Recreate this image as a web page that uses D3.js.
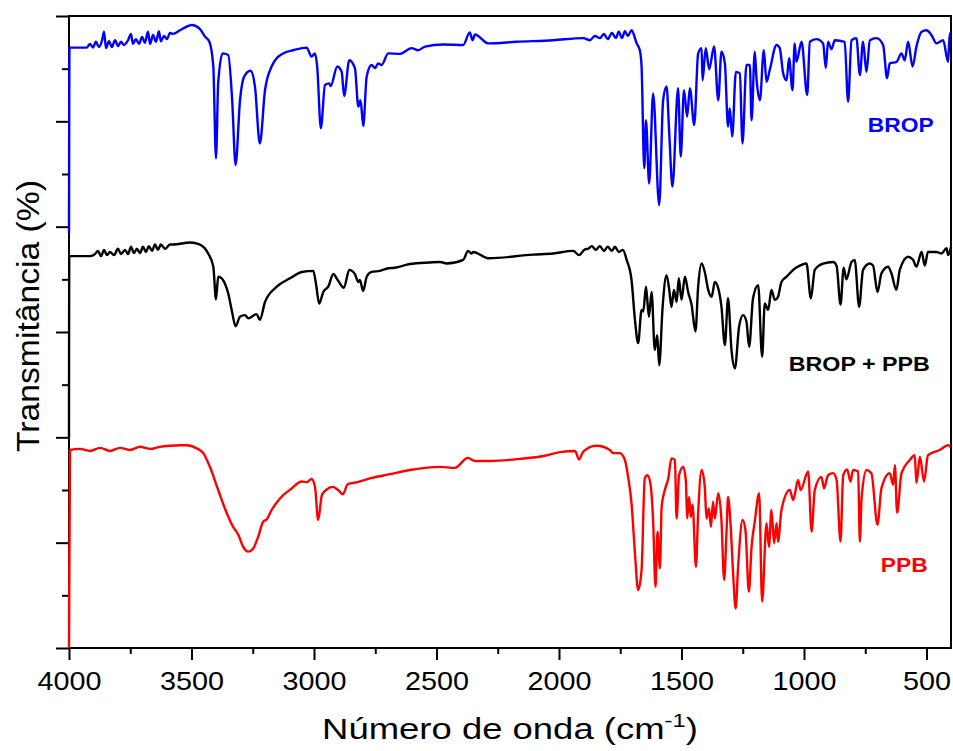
<!DOCTYPE html>
<html>
<head>
<meta charset="utf-8">
<script src="https://cdn.jsdelivr.net/npm/d3@7"></script>
<style>
  body { margin: 0; background: #fff; }
  svg { display: block; }
  text { font-family: "Liberation Sans", Arial, sans-serif; }
</style>
</head>
<body>
<div id="chart"></div>
<script>
// wavenumber (cm-1), transmittance (offset, arbitrary units)
const brop = [
  [4000,7.88],[3998,11.40],[3928,11.40],[3914,11.47],[3902,11.40],[3890,11.51],[3878,11.41],[3865,11.54],[3857,11.70],
  [3849,11.39],[3837,11.52],[3825,11.41],[3812,11.54],[3800,11.43],[3788,11.51],[3776,11.45],[3759,11.54],[3747,11.66],
  [3739,11.47],[3727,11.56],[3714,11.47],[3702,11.60],[3690,11.49],[3678,11.70],[3669,11.47],[3657,11.64],[3645,11.51],
  [3633,11.71],[3625,11.52],[3612,11.62],[3600,11.56],[3588,11.68],[3576,11.66],[3547,11.73],[3523,11.79],[3499,11.83],
  [3465,11.75],[3445,11.61],[3427,11.51],[3411,11.04],[3400,9.30],[3391,10.73],[3373,11.29],[3350,11.26],[3334,10.40],
  [3320,9.17],[3302,10.40],[3285,10.85],[3259,10.96],[3241,10.66],[3221,9.58],[3200,10.59],[3173,11.04],[3126,11.29],
  [3085,11.35],[3030,11.40],[3010,11.23],[2996,11.29],[2987,11.04],[2972,9.87],[2955,10.69],[2938,10.72],[2932,10.67],
  [2905,11.04],[2887,10.94],[2877,10.48],[2856,11.16],[2833,11.01],[2819,10.28],[2810,10.40],[2799,9.91],[2785,10.85],
  [2765,11.07],[2751,11.01],[2738,11.10],[2724,11.07],[2697,11.29],[2649,11.28],[2602,11.39],[2575,11.35],[2547,11.42],
  [2473,11.46],[2391,11.45],[2364,11.69],[2353,11.54],[2343,11.65],[2289,11.48],[2173,11.51],[2024,11.54],[1901,11.58],
  [1874,11.54],[1854,11.62],[1833,11.58],[1817,11.66],[1801,11.56],[1784,11.68],[1768,11.58],[1756,11.70],[1743,11.58],
  [1731,11.71],[1719,11.62],[1704,11.73],[1683,11.48],[1670,11.35],[1663,11.04],[1652,9.11],[1645,10.02],[1632,8.82],
  [1616,10.53],[1591,8.41],[1575,10.40],[1561,10.66],[1550,9.77],[1537,8.76],[1514,10.63],[1503,9.33],[1490,10.59],
  [1477,10.09],[1466,10.63],[1448,9.93],[1432,11.29],[1418,11.39],[1414,10.78],[1401,11.39],[1387,10.99],[1367,11.42],
  [1350,10.40],[1337,11.32],[1323,11.10],[1310,9.90],[1303,10.25],[1293,9.71],[1278,10.94],[1262,10.91],[1251,9.58],
  [1235,11.07],[1221,11.07],[1214,10.02],[1201,11.32],[1194,10.82],[1180,10.40],[1164,11.35],[1153,10.75],[1140,10.97],
  [1112,11.45],[1099,11.39],[1085,10.91],[1071,10.78],[1061,11.20],[1047,10.59],[1038,11.48],[1031,11.13],[1010,11.51],
  [987,10.50],[976,11.51],[949,11.56],[922,11.48],[911,11.01],[902,11.51],[888,11.37],[874,11.54],[834,11.51],
  [820,10.37],[806,11.54],[786,11.58],[772,10.88],[759,11.51],[745,10.94],[731,11.54],[704,11.58],[677,11.45],
  [661,10.82],[650,11.10],[622,11.13],[602,11.29],[589,11.16],[575,11.51],[557,11.04],[541,11.42],[520,11.70],
  [500,11.73],[480,11.64],[459,11.48],[432,11.54],[412,11.13],[405,11.67],[401,11.60]
];

const bropPpb = [
  [4000,4.00],[3999,7.44],[3914,7.44],[3894,7.48],[3882,7.54],[3869,7.44],[3857,7.56],[3845,7.46],[3833,7.52],
  [3816,7.46],[3800,7.58],[3788,7.48],[3771,7.56],[3759,7.48],[3747,7.62],[3735,7.50],[3723,7.58],[3710,7.50],
  [3698,7.62],[3686,7.52],[3674,7.63],[3661,7.54],[3649,7.66],[3637,7.56],[3625,7.66],[3608,7.58],[3588,7.66],
  [3574,7.66],[3506,7.70],[3465,7.66],[3432,7.49],[3411,7.24],[3400,6.62],[3391,7.05],[3377,7.02],[3350,6.73],
  [3336,6.42],[3320,6.11],[3302,6.29],[3282,6.32],[3268,6.26],[3234,6.34],[3221,6.23],[3200,6.57],[3152,6.86],
  [3098,7.02],[3050,7.14],[3003,7.16],[2992,6.92],[2979,6.54],[2962,6.76],[2942,6.86],[2921,7.10],[2905,7.00],
  [2894,6.92],[2878,6.84],[2856,7.18],[2833,7.10],[2819,6.95],[2813,6.99],[2799,6.78],[2785,7.05],[2765,7.14],
  [2731,7.16],[2697,7.21],[2670,7.22],[2609,7.29],[2527,7.32],[2486,7.33],[2459,7.30],[2391,7.37],[2371,7.54],
  [2357,7.49],[2350,7.52],[2289,7.40],[2105,7.47],[2024,7.49],[1942,7.54],[1918,7.46],[1894,7.57],[1882,7.58],
  [1866,7.63],[1850,7.56],[1833,7.63],[1817,7.54],[1801,7.62],[1784,7.54],[1772,7.62],[1756,7.52],[1739,7.56],
  [1724,7.37],[1704,6.99],[1690,6.23],[1677,5.79],[1663,6.42],[1656,6.39],[1645,6.86],[1633,6.29],[1622,6.76],
  [1609,5.66],[1599,5.94],[1591,5.37],[1577,6.48],[1561,7.08],[1550,6.80],[1541,6.48],[1531,6.80],[1520,6.57],
  [1511,7.02],[1500,6.61],[1486,7.05],[1473,6.76],[1459,6.52],[1443,6.01],[1432,6.86],[1418,7.30],[1405,7.14],
  [1391,6.80],[1377,6.67],[1364,6.95],[1350,6.83],[1337,6.48],[1323,5.75],[1310,6.64],[1296,5.66],[1282,5.31],
  [1265,6.10],[1249,6.32],[1235,6.20],[1224,5.72],[1208,6.64],[1187,6.89],[1171,5.53],[1160,6.54],[1146,6.42],
  [1133,6.80],[1119,6.61],[1106,6.67],[1092,6.95],[1071,7.05],[1044,7.18],[1017,7.26],[990,7.30],[972,6.64],
  [956,7.18],[922,7.30],[881,7.33],[867,7.26],[851,6.52],[838,7.22],[827,7.00],[806,7.33],[793,7.37],
  [775,6.48],[759,7.18],[731,7.30],[718,7.26],[700,6.76],[684,7.11],[657,7.24],[643,7.11],[623,6.80],
  [609,7.18],[575,7.43],[555,7.37],[541,7.24],[520,7.52],[507,7.26],[494,7.52],[459,7.52],[439,7.49],
  [418,7.59],[412,7.46],[400,7.62]
];

const ppb = [
  [4000,0],[3996,3.76],[3955,3.78],[3914,3.74],[3873,3.80],[3833,3.74],[3792,3.80],[3751,3.76],[3710,3.82],
  [3669,3.78],[3629,3.82],[3588,3.84],[3547,3.85],[3520,3.85],[3479,3.79],[3452,3.70],[3425,3.44],[3391,3.00],
  [3356,2.56],[3330,2.30],[3309,2.15],[3289,1.92],[3268,1.83],[3248,1.89],[3228,2.11],[3207,2.40],[3193,2.44],
  [3173,2.62],[3139,2.84],[3091,3.03],[3050,3.16],[3030,3.15],[3010,3.21],[2996,3.06],[2983,2.43],[2968,2.90],
  [2951,3.00],[2923,3.06],[2902,3.00],[2882,2.92],[2862,3.11],[2821,3.15],[2764,3.23],[2690,3.30],[2609,3.38],
  [2547,3.42],[2486,3.44],[2425,3.42],[2372,3.61],[2343,3.55],[2282,3.55],[2160,3.59],[2058,3.65],[1996,3.72],
  [1935,3.74],[1918,3.58],[1901,3.73],[1847,3.84],[1792,3.76],[1779,3.70],[1752,3.70],[1731,3.57],[1718,3.25],
  [1704,2.75],[1690,1.80],[1677,1.10],[1663,1.48],[1650,3.22],[1639,3.28],[1626,3.09],[1616,2.43],[1606,1.16],
  [1598,2.21],[1588,1.51],[1581,2.68],[1568,3.00],[1554,3.22],[1541,3.60],[1527,3.57],[1520,2.46],[1510,3.28],
  [1493,3.44],[1482,3.16],[1477,2.46],[1469,2.87],[1462,2.49],[1455,2.72],[1441,1.54],[1432,2.56],[1418,3.38],
  [1405,3.06],[1398,2.46],[1388,2.65],[1380,2.30],[1371,2.78],[1364,2.46],[1350,2.94],[1337,2.43],[1326,1.29],
  [1316,2.24],[1310,2.87],[1300,2.37],[1289,1.39],[1279,0.75],[1269,1.54],[1251,2.43],[1239,2.24],[1225,1.07],
  [1214,1.92],[1201,2.40],[1183,2.94],[1171,0.88],[1153,2.37],[1143,1.92],[1133,2.62],[1122,1.99],[1112,2.37],
  [1106,2.02],[1092,2.62],[1058,3.00],[1044,2.81],[1024,3.19],[1014,3.00],[983,3.35],[969,2.21],[956,3.00],
  [929,3.25],[918,3.03],[902,3.28],[881,3.32],[867,3.19],[851,2.02],[840,3.28],[824,3.39],[810,3.16],
  [800,3.38],[779,3.35],[772,2.02],[765,2.84],[745,3.38],[725,3.32],[700,2.34],[684,3.03],[650,3.32],
  [636,3.10],[629,3.47],[620,2.57],[602,3.32],[568,3.57],[548,3.66],[541,3.13],[527,3.63],[510,3.16],
  [494,3.66],[446,3.76],[412,3.85],[402,3.82]
];

const xMajor = [4000, 3500, 3000, 2500, 2000, 1500, 1000, 500];
const xMinor = [3750, 3250, 2750, 2250, 1750, 1250, 750];
const yMajor = [0, 2, 4, 6, 8, 10, 12];
const yMinor = [1, 3, 5, 7, 9, 11];

// label name, colour, anchor wavenumber, anchor value
const seriesLabels = ['BROP', 'BROP + PPB', 'PPB'];
const seriesColors = ['#0000ff', '#000000', '#ff0000'];
const labelWn = [740, 1062, 687];
const labelVal = [9.80, 5.26, 1.44];

const WIDTH = 953, HEIGHT = 751;
const margin = {top: 16, right: 2, bottom: 103, left: 69};

const svg = d3.select('#chart').append('svg')
  .attr('width', WIDTH).attr('height', HEIGHT);

const x = d3.scaleLinear().domain([4000, 400]).range([margin.left, WIDTH - margin.right]);
const y = d3.scaleLinear().domain([0, 12]).range([HEIGHT - margin.bottom, margin.top]);

const plotBottom = HEIGHT - margin.bottom;

// axes
svg.append('g').attr('transform', `translate(0,${plotBottom})`)
  .call(d3.axisBottom(x).tickValues(xMinor).tickSize(6).tickFormat(''));
const xAxis = svg.append('g').attr('transform', `translate(0,${plotBottom})`)
  .call(d3.axisBottom(x).tickValues(xMajor).tickSize(12).tickFormat(d3.format('d')));
svg.append('g').attr('transform', `translate(${margin.left},0)`)
  .call(d3.axisLeft(y).tickValues(yMinor).tickSize(7).tickFormat(''));
svg.append('g').attr('transform', `translate(${margin.left},0)`)
  .call(d3.axisLeft(y).tickValues(yMajor).tickSize(13).tickFormat(''));

svg.selectAll('.domain').remove();
svg.selectAll('.tick line').attr('stroke', '#000').attr('stroke-width', 2);

xAxis.selectAll('.tick text')
  .attr('y', 42).attr('dy', 0)
  .attr('font-size', 25).attr('fill', '#000')
  .attr('font-family', '"Liberation Sans", Arial, sans-serif')
  .attr('textLength', d => String(d).length * 16)
  .attr('lengthAdjust', 'spacingAndGlyphs');

// frame
svg.append('rect')
  .attr('x', x.range()[0]).attr('y', y.range()[1])
  .attr('width', x.range()[1] - x.range()[0])
  .attr('height', y.range()[0] - y.range()[1])
  .attr('fill', 'none').attr('stroke', '#000').attr('stroke-width', 2);

// spectra
const line = d3.line().x(d => x(d[0])).y(d => y(d[1])).curve(d3.curveMonotoneX);
[brop, bropPpb, ppb].forEach((s, i) => {
  svg.append('path')
    .attr('d', line(s))
    .attr('fill', 'none')
    .attr('stroke', seriesColors[i])
    .attr('stroke-width', 2.4)
    .attr('stroke-linejoin', 'round');
});

// stretch a text horizontally to a target width
function fit(t, w) {
  const bw = t.node().getBBox().width;
  t.attr('transform', `scale(${w / bw},1)`);
}

// series labels
const labelWidths = [66, 141, 47];
const labelSizes = [21, 20, 20];
seriesLabels.forEach((name, i) => {
  const g = svg.append('g')
    .attr('transform', `translate(${x(labelWn[i])},${y(labelVal[i])})`);
  const t = g.append('text')
    .attr('font-size', labelSizes[i])
    .attr('font-weight', 'bold')
    .attr('fill', seriesColors[i])
    .text(name);
  fit(t, labelWidths[i]);
});

// x title
const gx = svg.append('g').attr('transform', 'translate(510,739)');
const xt = gx.append('text').attr('text-anchor', 'middle').attr('font-size', 29).attr('fill', '#000');
xt.append('tspan').text('Número de onda (cm');
xt.append('tspan').attr('dy', -12).attr('font-size', 19).text('-1');
xt.append('tspan').attr('dy', 12).text(')');
fit(xt, 376);

// y title
const gy = svg.append('g').attr('transform', 'translate(39,316) rotate(-90)');
const yt = gy.append('text').attr('text-anchor', 'middle').attr('font-size', 31).attr('fill', '#000')
  .text('Transmitância (%)');
fit(yt, 272);
</script>
</body>
</html>
